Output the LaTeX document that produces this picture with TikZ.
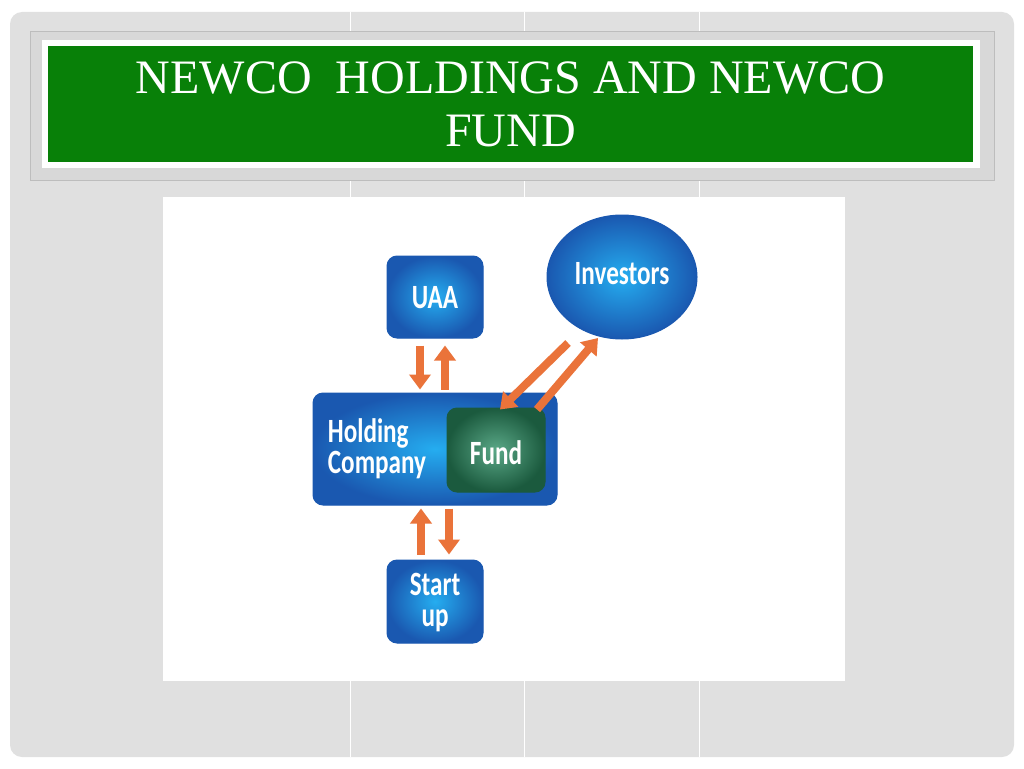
\documentclass[tikz,border=0pt]{standalone}
\usepackage{fontspec}
\usetikzlibrary{shapes.geometric,arrows.meta}
\setmainfont{Liberation Serif}
\newfontfamily\boxfont[FakeStretch=0.74]{Carlito}

\definecolor{slidegray}{HTML}{E0E0E0}
\definecolor{bandgray}{HTML}{D8D8D8}
\definecolor{bandline}{HTML}{BDBDBD}
\definecolor{titlegreen}{HTML}{088008}
\definecolor{blueinner}{HTML}{25ADF0}
\definecolor{blueouter}{HTML}{1A58B0}
\definecolor{greeninner}{HTML}{5AA887}
\definecolor{greenouter}{HTML}{1B5A3E}
\definecolor{flowcol}{HTML}{EA733A}

\begin{document}
\begin{tikzpicture}[x=1pt,y=-1pt,
    flow/.style={flowcol,line width=8pt,-{Triangle[length=15pt,width=21pt]}},
    bluebox/.style={rounded corners=10pt,draw=blueouter,line width=1pt,
        inner color=blueinner,outer color=blueouter},
    boxtext/.style={text=white,font=\boxfont\bfseries\fontsize{34}{31}\selectfont,align=center}]
    \useasboundingbox (0,0) rectangle (1024,768);
    \fill[white] (0,0) rectangle (1024,768);

    % Slide
    \fill[slidegray,rounded corners=12pt] (10,12) rectangle (1014,757);
    \foreach \lx in {350,524,699}
        \draw[white,line width=1pt] (\lx,12) -- (\lx,757);

    % Title
    \filldraw[fill=bandgray,draw=bandline,line width=1pt] (30,32) rectangle (994,180);
    \fill[white] (42,40) rectangle (980,168);
    \node[fill=titlegreen,minimum width=925,minimum height=116,inner sep=0pt,
          text=white,align=center,font=\fontsize{48}{53}\selectfont]
        (title) at (510.5,104) {NEWCO\ \ HOLDINGS AND NEWCO\\FUND};

    % Picture
    \fill[white] (163,197) rectangle (845,681);

    \begin{scope}[every node/.style={inner sep=0pt}]
    % Boxes
    \node[bluebox,minimum width=96,minimum height=82] (uaa) at (435,297) {};
    \node[ellipse,draw=blueouter,line width=1pt,inner color=blueinner,outer color=blueouter,
          minimum width=150,minimum height=124] (inv) at (622,277) {};
    \node[bluebox,minimum width=244,minimum height=112] (hold) at (435,449) {};
    \node[rounded corners=10pt,draw=greenouter,line width=1pt,
          inner color=greeninner,outer color=greenouter,
          minimum width=98,minimum height=84] (fund) at (496,450) {};
    \node[bluebox,minimum width=96,minimum height=83] (su) at (435,601.5) {};

    % Labels
    \node[boxtext] (uaalbl) at (435,298) {UAA};
    \node[boxtext] (invlbl) at (622,274) {Investors};
    \node[boxtext,align=left] (holdlbl) at (377,449) {Holding\\Company};
    \node[boxtext] (fundlbl) at (496,453) {Fund};
    \node[boxtext] (sulbl) at (435,603) {Start\\up};
    \end{scope}

    % Flows
    \draw[flow] ([shift={(-15,7)}]uaa.south) -- ([shift={(-15,-3)}]hold.north);
    \draw[flow] ([shift={(10,-3)}]hold.north) -- ([shift={(10,7)}]uaa.south);
    \draw[flow] ([shift={(-14,-5)}]su.north) -- ([shift={(-14,3)}]hold.south);
    \draw[flow] ([shift={(14,3)}]hold.south) -- ([shift={(14,-5)}]su.north);
    \draw[flow] ([shift={(-54,66)}]inv.center) -- ([shift={(4,2)}]fund.north);
    \draw[flow] ([shift={(41,2)}]fund.north) -- ([shift={(-24,61)}]inv.center);
\end{tikzpicture}
\end{document}
